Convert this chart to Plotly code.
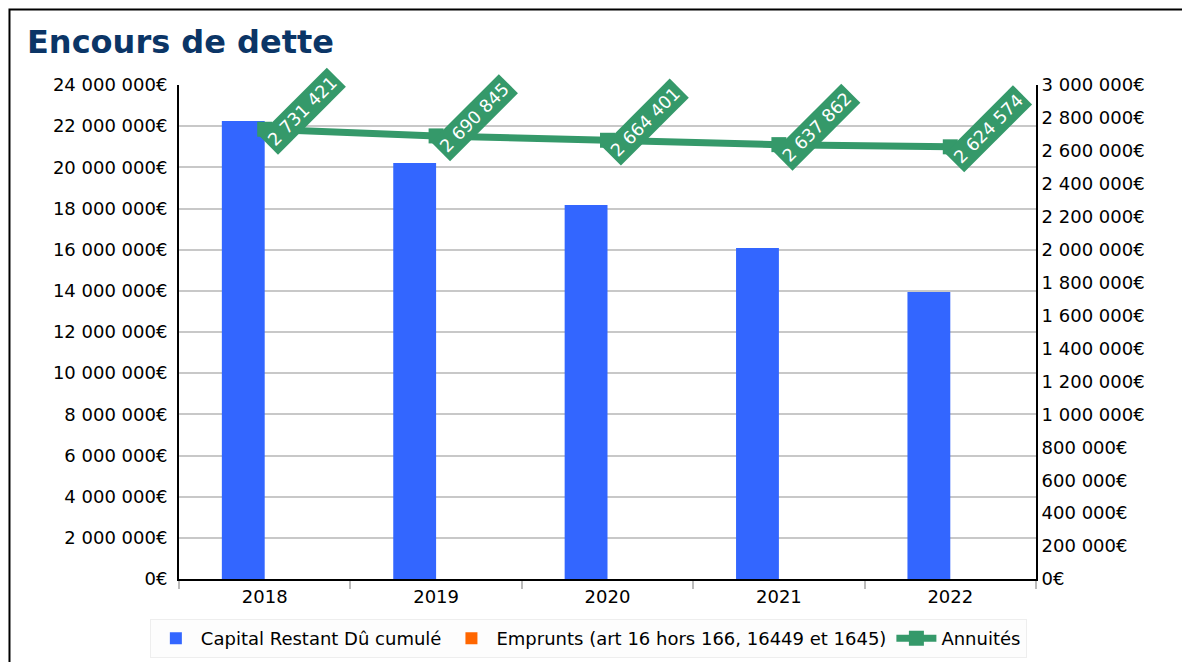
import plotly.graph_objects as go

# Data
years = ["2018", "2019", "2020", "2021", "2022"]
capital_restant = [22250000, 20210000, 18170000, 16080000, 13940000]
emprunts = [0, 0, 0, 0, 0]
annuites = [2731421, 2690845, 2664401, 2637862, 2624574]

left_ticks = list(range(0, 24000001, 2000000))
right_ticks = list(range(0, 3000001, 200000))


def euro(v):
    return f"{v:,}".replace(",", " ") + "€"


def plain(v):
    return f"{v:,}".replace(",", " ")


BLUE = "#3366ff"
ORANGE = "#ff6600"
GREEN = "#35996a"
FONT = "DejaVu Sans"
TICK_SIZE = 18

fig = go.Figure()

fig.add_trace(go.Bar(
    x=years, y=capital_restant, name="Capital Restant Dû cumulé",
    marker=dict(color=BLUE, line=dict(width=0)),
))
fig.add_trace(go.Bar(
    x=years, y=emprunts, name="Emprunts (art 16 hors 166, 16449 et 1645)",
    marker=dict(color=ORANGE, line=dict(width=0)),
))
fig.add_trace(go.Scatter(
    x=years, y=annuites, name="Annuités", yaxis="y2",
    mode="lines+markers",
    line=dict(color=GREEN, width=7),
    marker=dict(symbol="square", size=15, color=GREEN),
))

# Rotated value labels on the annuity line (category index positions)
for i, v in enumerate(annuites):
    fig.add_annotation(
        x=i, y=v, xref="x", yref="y2",
        text=plain(v), showarrow=False, textangle=-45,
        font=dict(family=FONT, size=17.5, color="white"),
        bgcolor=GREEN, borderpad=3,
        xanchor="center", yanchor="middle",
        xshift=38, yshift=18,
    )

# Outer frame
fig.add_shape(
    type="rect", xref="paper", yref="paper",
    x0=-0.1978, x1=1.5, y0=-0.5, y1=1.1528,
    line=dict(color="black", width=2), fillcolor="rgba(0,0,0,0)",
    layer="above",
)

fig.update_layout(
    width=1182, height=662,
    margin=dict(l=179, r=146, t=85, b=83, autoexpand=False),
    paper_bgcolor="white", plot_bgcolor="white",
    font=dict(family=FONT, size=TICK_SIZE, color="black"),
    title=dict(
        text="<b>Encours de dette</b>",
        font=dict(family=FONT, size=32, color="#0b3566"),
        x=27 / 1182, xanchor="left", xref="container",
        y=1 - 42 / 662, yanchor="middle", yref="container",
    ),
    barmode="group", bargap=0.5, bargroupgap=0,
    showlegend=True,
    legend=dict(
        orientation="h", x=-0.034, xanchor="left",
        y=-0.081, yanchor="top",
        bgcolor="#fdfdfd", bordercolor="#eeeeee", borderwidth=1,
        font=dict(family=FONT, size=TICK_SIZE), traceorder="normal",
        itemwidth=40,
    ),
    xaxis=dict(
        type="category", range=[-0.5, len(years) - 0.5],
        showline=True, linecolor="black", linewidth=2,
        ticks="outside", tickson="boundaries", ticklen=8, tickcolor="#bbbbbb",
        tickwidth=2, showgrid=False, mirror=False,
        tickfont=dict(family=FONT, size=TICK_SIZE),
    ),
    yaxis=dict(
        range=[0, 24000000], tickvals=left_ticks,
        ticktext=[euro(v) for v in left_ticks],
        showline=True, linecolor="black", linewidth=2,
        showgrid=True, gridcolor="#c8c8c8", gridwidth=2,
        zeroline=False, ticks="", ticklabelstandoff=6,
        tickfont=dict(family=FONT, size=TICK_SIZE),
    ),
    yaxis2=dict(
        range=[0, 3000000], tickvals=right_ticks,
        ticktext=[euro(v) for v in right_ticks],
        overlaying="y", side="right",
        showline=True, linecolor="black", linewidth=2,
        showgrid=False, zeroline=False, ticks="",
        tickfont=dict(family=FONT, size=TICK_SIZE),
    ),
)

fig.write_html("out.html")
